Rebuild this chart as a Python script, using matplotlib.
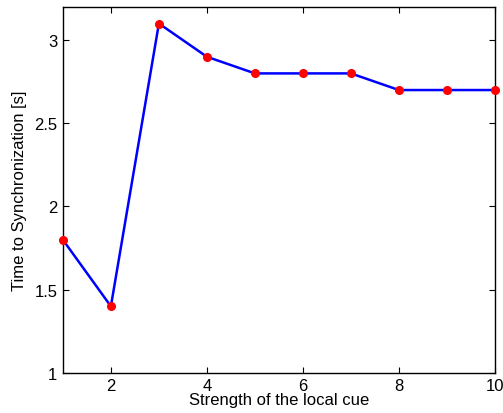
import matplotlib
matplotlib.use("Agg")
import matplotlib.pyplot as plt

strength = [1, 2, 3, 4, 5, 6, 7, 8, 9, 10]
sync_time = [1.8, 1.4, 3.1, 2.9, 2.8, 2.8, 2.8, 2.7, 2.7, 2.7]
xticks = [2, 4, 6, 8, 10]
yticks = [1, 1.5, 2, 2.5, 3]
ytick_labels = ["1", "1.5", "2", "2.5", "3"]

plt.rcParams["font.family"] = ["Liberation Sans", "DejaVu Sans"]
plt.rcParams["font.size"] = 12

fig = plt.figure(figsize=(5.03, 4.14), dpi=100)
ax = fig.add_axes([0.125, 0.097, 0.859, 0.884])

ax.plot(strength, sync_time, color="blue", linewidth=1.8, marker="o",
        markersize=5.5, markerfacecolor="red", markeredgecolor="red",
        clip_on=False, zorder=3)

ax.set_xlim(1, 10)
ax.set_ylim(1, 3.2)
ax.set_xticks(xticks)
ax.set_yticks(yticks)
ax.set_yticklabels(ytick_labels)
ax.tick_params(direction="in", top=True, right=True, length=4, width=0.8,
               labelsize=12, pad=4)
for s in ax.spines.values():
    s.set_linewidth(1.0)

ax.set_xlabel("Strength of the local cue", labelpad=-1)
ax.set_ylabel("Time to Synchronization [s]", labelpad=5)

fig.savefig("out.png", dpi=100)
